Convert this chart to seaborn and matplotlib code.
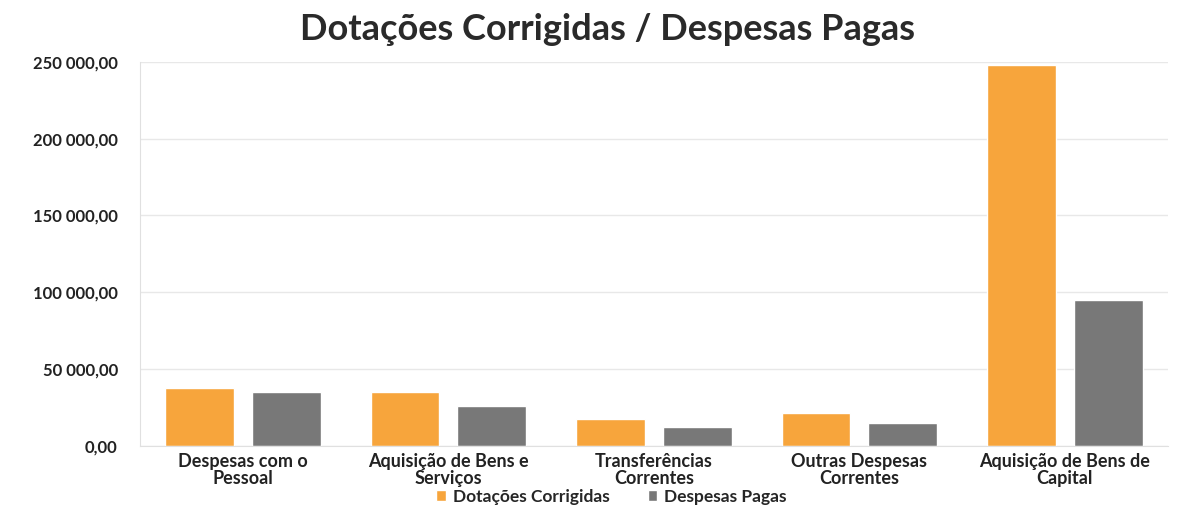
import matplotlib
matplotlib.use('Agg')
import matplotlib.pyplot as plt
import matplotlib.ticker as mticker
import seaborn as sns
import pandas as pd

categorias = ['Despesas com o\nPessoal', 'Aquisição de Bens e\nServiços', 'Transferências\nCorrentes',
              'Outras Despesas\nCorrentes', 'Aquisição de Bens de\nCapital']
dotacoes = [37800, 35200, 17400, 21500, 248000]
despesas = [35200, 26000, 12300, 14800, 94800]
series = ['Dotações Corrigidas', 'Despesas Pagas']
cores = ['#F7A53C', '#787878']

df = pd.DataFrame({
    'categoria': categorias * 2,
    'valor': dotacoes + despesas,
    'serie': [series[0]] * len(categorias) + [series[1]] * len(categorias),
})

sns.set_style('white')
plt.rcParams['font.family'] = ['Lato', 'DejaVu Sans']

fig = plt.figure(figsize=(11.99, 5.07), dpi=100)
ax = fig.add_axes([0.1168, 0.121, 0.857, 0.757])
sns.barplot(data=df, x='categoria', y='valor', hue='serie', palette=cores,
            width=0.843, gap=0.204, saturation=1, ax=ax, legend=True)

ax.set_ylim(0, 250000)
ax.set_yticks(range(0, 250001, 50000))
ax.yaxis.set_major_formatter(mticker.FuncFormatter(
    lambda v, p: f'{v:,.2f}'.replace(',', ' ').replace('.', ',')))
ax.grid(axis='y', color='#E8E8E8', linewidth=1)
ax.set_axisbelow(True)
ax.set_xlabel('')
ax.set_ylabel('')
for s in ['top', 'right']:
    ax.spines[s].set_visible(False)
ax.spines['left'].set_color('#E0E0E0')
ax.spines['bottom'].set_color('#E0E0E0')
ax.tick_params(axis='y', labelsize=12, colors='#222222', length=0, pad=16)
ax.tick_params(axis='x', labelsize=13, colors='#222222', length=0, pad=5)
for t in ax.get_yticklabels() + ax.get_xticklabels():
    t.set_fontweight('bold')
for t in ax.get_xticklabels():
    t.set_linespacing(1.0)

fig.suptitle('Dotações Corrigidas / Despesas Pagas', x=0.507, y=0.975,
             fontsize=26, fontweight='bold', color='#2A2A2A')

h, l = ax.get_legend_handles_labels()
ax.get_legend().remove()
fig.legend(h, l, loc='center', bbox_to_anchor=(0.51, 0.02), ncol=2, frameon=False,
           prop={'size': 12.5, 'weight': 'bold'}, handlelength=0.55, handleheight=0.55,
           columnspacing=2.2, handletextpad=0.4)

plt.savefig('out.png', dpi=100)
plt.close()
